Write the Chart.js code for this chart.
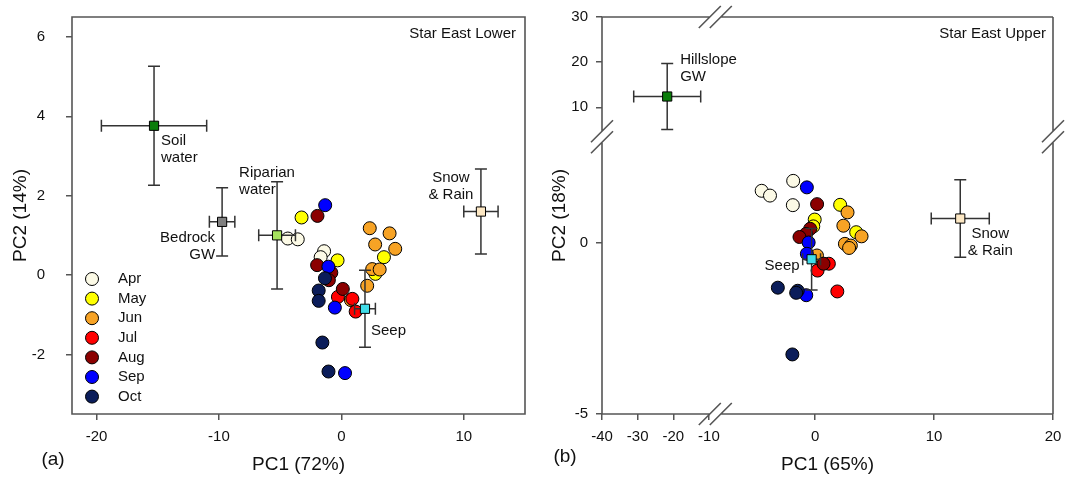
<!DOCTYPE html>
<html>
<head>
<meta charset="utf-8">
<script src="https://cdn.jsdelivr.net/npm/chart.js@4/dist/chart.umd.min.js"></script>
<style>
  body { margin: 0; background: #fff; }
  #panelA { position: absolute; left: 0; top: 0; }
  #panelB { position: absolute; left: 535px; top: 0; }
</style>
</head>
<body>
<canvas id="panelA" width="535" height="481"></canvas>
<canvas id="panelB" width="530" height="481"></canvas>
<script>
const months = ['Apr', 'May', 'Jun', 'Jul', 'Aug', 'Sep', 'Oct'];
const monthColors = ['#fcfae6', '#ffff00', '#f7a325', '#ff0000', '#8b0000', '#0000ff', '#0b1d5a'];

// (a) Star East Lower, stream samples [PC1, PC2]
const lowerApr = [[-4.37, 0.92], [-3.56, 0.90], [-1.41, 0.60], [-1.69, 0.45]];
const lowerMay = [[-3.25, 1.45], [-0.31, 0.37], [3.48, 0.45], [2.78, 0.03]];
const lowerJun = [[2.32, 1.18], [3.94, 1.05], [2.76, 0.77], [4.40, 0.66], [2.52, 0.15], [3.13, 0.14], [2.11, -0.27], [0.78, -0.63]];
const lowerJul = [[-0.28, -0.55], [0.90, -0.60], [1.17, -0.92]];
const lowerAug = [[-1.95, 1.49], [-1.98, 0.25], [-0.82, 0.06], [-1.02, -0.13], [0.12, -0.35]];
const lowerSep = [[-1.32, 1.76], [-1.06, 0.21], [-0.53, -0.82], [0.30, -2.47]];
const lowerOct = [[-1.34, -0.08], [-1.85, -0.39], [-1.85, -0.65], [-1.55, -1.70], [-1.05, -2.43]];

// (a) end members, mean +/- sd
const lowerSources = ['Soil\nwater', 'Bedrock\nGW', 'Riparian\nwater', 'Snow\n& Rain', 'Seep'];
const lowerSourceColors = ['#0b7d0b', '#808080', '#a6e35e', '#fde8c4', '#40dce8'];
const lowerSourcePC1 = [-15.3, -9.74, -5.25, 11.4, 1.93];
const lowerSourcePC2 = [3.76, 1.34, 1.0, 1.6, -0.85];
const lowerSourceErr1 = [4.3, 1.04, 1.5, 1.4, 0.85];
const lowerSourceErr2 = [1.5, 0.86, 1.35, 1.07, 0.97];
const lowerNotePos = [[7, 15, 'left'], [-7, 16, 'right'], [-38, -62, 'left'], [-30, -34, 'center'], [6, 22, 'left']];

// (b) Star East Upper, stream samples [PC1, PC2]
const upperApr = [[-4.5, 1.52], [-3.8, 1.38], [-1.85, 1.81], [-1.88, 1.10]];
const upperMay = [[2.1, 1.11], [3.45, 0.31], [-0.04, 0.68], [-0.16, 0.48]];
const upperJun = [[2.72, 0.89], [2.37, 0.50], [3.9, 0.19], [2.5, -0.03], [3.0, -0.08], [2.85, -0.15], [0.15, -0.37]];
const upperJul = [[1.15, -0.61], [0.2, -0.81], [1.86, -1.42]];
const upperAug = [[0.16, 1.13], [-0.42, 0.41], [-0.77, 0.26], [-1.32, 0.17], [0.7, -0.61]];
const upperSep = [[-0.7, 1.62], [-0.55, 0.01], [-0.7, -0.32], [-0.75, -1.53]];
const upperOct = [[-3.14, -1.31], [-1.47, -1.40], [-1.6, -1.46], [-1.92, -3.26]];

// (b) end members
const upperSources = ['Hillslope\nGW', 'Snow\n& Rain', 'Seep'];
const upperSourceColors = ['#0b7d0b', '#fde8c4', '#40dce8'];
const upperSourcePC1 = [-21.7, 12.2, -0.3];
const upperSourcePC2 = [12.4, 0.71, -0.48];
const upperSourceErr1 = [9.4, 2.44, 0.75];
const upperSourceErr2 = [7.3, 1.13, 0.9];
const upperSourceAxes = [['xL', 'yT'], ['xR', 'yB'], ['xR', 'yB']];
const upperNotePos = [[13, -37, 'left'], [30, 15, 'center'], [-12, 7, 'right']];

// tick labels
const lowerXTicks = [-20, -10, 0, 10];
const lowerYTicks = [-2, 0, 2, 4, 6];
const upperXTicksLeft = [-40, -30, -20, -10];
const upperXTicksRight = [0, 10, 20];
const upperYTicksTop = [10, 20, 30];
const upperYTicksBottom = [-5, 0];

Chart.defaults.font.family = "'Liberation Sans', Arial, sans-serif";
Chart.defaults.color = '#111';

function monthSets(groups, xId, yId) {
    return groups.map((pts, i) => ({
        label: months[i],
        data: pts.map(p => ({ x: p[0], y: p[1] })),
        xAxisID: xId,
        yAxisID: yId,
        backgroundColor: monthColors[i],
        borderColor: '#000',
        borderWidth: 1,
        pointRadius: 6.5,
        pointHoverRadius: 6.5,
        order: 100 - i
    }));
}

function sourceSets(names, colors, pc1, pc2, e1, e2, notePos, axes) {
    return names.map((n, i) => ({
        label: n.replace('\n', ' '),
        data: [{ x: pc1[i], y: pc2[i] }],
        xAxisID: axes[i][0],
        yAxisID: axes[i][1],
        pointStyle: 'rect',
        backgroundColor: colors[i],
        borderColor: '#000',
        borderWidth: 1,
        pointRadius: 6.5,
        pointHoverRadius: 6.5,
        order: 10 - i,
        errX: e1[i],
        errY: e2[i],
        note: n,
        notePos: notePos[i]
    }));
}

// fixed box size, no extra margin for the end labels
function fitX(s) { s.height = 67; s.paddingLeft = 0; s.paddingRight = 0; }
function fitY(w) { return s => { s.width = w; s.paddingTop = 0; s.paddingBottom = 0; }; }

function tickAxis(ticks, min, max, extra) {
    return Object.assign({
        type: 'linear',
        min: min,
        max: max,
        afterBuildTicks: s => { s.ticks = ticks.map(v => ({ value: v })); },
        grid: { display: true, drawOnChartArea: false, drawTicks: true, tickLength: 6, color: '#555', lineWidth: 1.5 },
        border: { display: false }
    }, extra);
}

function line(ctx, x0, y0, x1, y1) {
    ctx.moveTo(x0, y0);
    ctx.lineTo(x1, y1);
}

const decor = {
    id: 'decor',
    beforeDatasetDraw(chart, args) {
        const ds = chart.data.datasets[args.index];
        if (ds.errX == null) return;
        const xs = chart.scales[args.meta.xAxisID];
        const ys = chart.scales[args.meta.yAxisID];
        const ctx = chart.ctx;
        const c = 6;
        ctx.save();
        ctx.strokeStyle = '#333';
        ctx.lineWidth = 1.5;
        ds.data.forEach(p => {
            const cx = xs.getPixelForValue(p.x), cy = ys.getPixelForValue(p.y);
            const x0 = xs.getPixelForValue(p.x - ds.errX), x1 = xs.getPixelForValue(p.x + ds.errX);
            const y0 = ys.getPixelForValue(p.y - ds.errY), y1 = ys.getPixelForValue(p.y + ds.errY);
            ctx.beginPath();
            line(ctx, x0, cy, x1, cy);
            line(ctx, x0, cy - c, x0, cy + c);
            line(ctx, x1, cy - c, x1, cy + c);
            line(ctx, cx, y0, cx, y1);
            line(ctx, cx - c, y0, cx + c, y0);
            line(ctx, cx - c, y1, cx + c, y1);
            ctx.stroke();
        });
        ctx.restore();
    },
    afterDraw(chart, args, opts) {
        const ctx = chart.ctx;
        const a = chart.chartArea;
        ctx.save();

        // frame
        ctx.strokeStyle = '#555';
        ctx.lineWidth = 1.6;
        ctx.beginPath();
        if (!opts.broken) {
            ctx.rect(a.left, a.top, a.right - a.left, a.bottom - a.top);
        } else {
            const bx = chart.scales.xL.right;
            const by = chart.scales.yT.bottom;
            const g = 5.5, s = 11;
            [a.top, a.bottom].forEach(y => {
                line(ctx, a.left, y, bx - g, y);
                line(ctx, bx + g, y, a.right, y);
                line(ctx, bx - g - s, y + s, bx - g + s, y - s);
                line(ctx, bx + g - s, y + s, bx + g + s, y - s);
            });
            [a.left, a.right].forEach(x => {
                line(ctx, x, a.top, x, by - g);
                line(ctx, x, by + g, x, a.bottom);
                line(ctx, x - s, by - g + s, x + s, by - g - s);
                line(ctx, x - s, by + g + s, x + s, by + g - s);
            });
        }
        ctx.stroke();

        // end member labels
        ctx.fillStyle = '#111';
        ctx.font = "15px 'Liberation Sans', Arial, sans-serif";
        ctx.textBaseline = 'middle';
        chart.data.datasets.forEach((ds, i) => {
            if (!ds.note) return;
            const el = chart.getDatasetMeta(i).data[0];
            const [dx, dy, align] = ds.notePos;
            ctx.textAlign = align;
            ds.note.split('\n').forEach((t, k) => ctx.fillText(t, el.x + dx, el.y + dy + k * 17));
        });

        // panel name
        ctx.textAlign = 'right';
        ctx.fillText(opts.title, a.right - opts.titleInset, a.top + 17);

        // legend inside the plot
        if (opts.legend) {
            months.forEach((m, i) => {
                const y = a.top + 262 + i * 19.6;
                ctx.beginPath();
                ctx.arc(a.left + 20, y, 6.5, 0, Math.PI * 2);
                ctx.fillStyle = monthColors[i];
                ctx.fill();
                ctx.lineWidth = 1;
                ctx.strokeStyle = '#000';
                ctx.stroke();
                ctx.fillStyle = '#111';
                ctx.textAlign = 'left';
                ctx.fillText(m, a.left + 46, y);
            });
        }

        // axis titles drawn by hand for the broken-axis panel
        ctx.font = "19px 'Liberation Sans', Arial, sans-serif";
        ctx.textAlign = 'center';
        if (opts.xTitle) {
            ctx.fillText(opts.xTitle, (a.left + a.right) / 2, 465);
            ctx.save();
            ctx.translate(25, (a.top + a.bottom) / 2);
            ctx.rotate(-Math.PI / 2);
            ctx.fillText(opts.yTitle, 0, 0);
            ctx.restore();
        }
        ctx.fillText(opts.letter, opts.letterX, opts.letterY);
        ctx.restore();
    }
};

const xTickOpts = { font: { size: 15 }, color: '#111', maxRotation: 0, autoSkip: false, padding: 8 };

// panel (a)
new Chart(document.getElementById('panelA'), {
    type: 'scatter',
    data: {
        datasets: monthSets([lowerApr, lowerMay, lowerJun, lowerJul, lowerAug, lowerSep, lowerOct], 'x', 'y')
            .concat(sourceSets(lowerSources, lowerSourceColors, lowerSourcePC1, lowerSourcePC2,
                lowerSourceErr1, lowerSourceErr2, lowerNotePos, lowerSources.map(() => ['x', 'y'])))
    },
    options: {
        responsive: false,
        animation: false,
        events: [],
        layout: { padding: { left: 0, top: 17, right: 10, bottom: 0 } },
        scales: {
            x: tickAxis(lowerXTicks, -22, 15, {
                position: 'bottom',
                afterFit: fitX,
                ticks: xTickOpts,
                title: { display: true, text: 'PC1 (72%)', font: { size: 19 }, color: '#111', padding: { top: 0, bottom: 5 } }
            }),
            y: tickAxis(lowerYTicks, -3.5, 6.5, {
                position: 'left',
                afterFit: fitY(72),
                ticks: { font: { size: 15 }, color: '#111', padding: 21, autoSkip: false },
                title: { display: true, text: 'PC2 (14%)', font: { size: 19 }, color: '#111', padding: { top: 9, bottom: 0 } }
            })
        },
        plugins: {
            legend: { display: false },
            tooltip: { enabled: false },
            decor: { title: 'Star East Lower', titleInset: 9, legend: true, broken: false, letter: '(a)', letterX: 53, letterY: 460 }
        }
    },
    plugins: [decor]
});

// panel (b), broken axes built from stacked scales
new Chart(document.getElementById('panelB'), {
    type: 'scatter',
    data: {
        datasets: monthSets([upperApr, upperMay, upperJun, upperJul, upperAug, upperSep, upperOct], 'xR', 'yB')
            .concat(sourceSets(upperSources, upperSourceColors, upperSourcePC1, upperSourcePC2,
                upperSourceErr1, upperSourceErr2, upperNotePos, upperSourceAxes))
    },
    options: {
        responsive: false,
        animation: false,
        events: [],
        layout: { padding: { left: 0, top: 17, right: 12, bottom: 0 } },
        scales: {
            xL: tickAxis(upperXTicksLeft, -40, -8.2, {
                axis: 'x', position: 'bottom', stack: 'sx', stackWeight: 113.3, weight: 0,
                afterFit: fitX, ticks: xTickOpts
            }),
            xR: tickAxis(upperXTicksRight, -8.4, 20, {
                axis: 'x', position: 'bottom', stack: 'sx', stackWeight: 337.7, weight: 1,
                afterFit: fitX, ticks: xTickOpts
            }),
            yB: tickAxis(upperYTicksBottom, -5, 3.1, {
                axis: 'y', position: 'left', stack: 'sy', stackWeight: 277.3, weight: 0,
                afterFit: fitY(67),
                ticks: { font: { size: 15 }, color: '#111', padding: 8, autoSkip: false }
            }),
            yT: tickAxis(upperYTicksTop, 3.5, 30, {
                axis: 'y', position: 'left', stack: 'sy', stackWeight: 119.7, weight: 1,
                afterFit: fitY(67),
                ticks: { font: { size: 15 }, color: '#111', padding: 8, autoSkip: false }
            })
        },
        plugins: {
            legend: { display: false },
            tooltip: { enabled: false },
            decor: {
                title: 'Star East Upper', titleInset: 7, legend: false, broken: true,
                xTitle: 'PC1 (65%)', yTitle: 'PC2 (18%)', letter: '(b)', letterX: 30, letterY: 457
            }
        }
    },
    plugins: [decor]
});
</script>
</body>
</html>
